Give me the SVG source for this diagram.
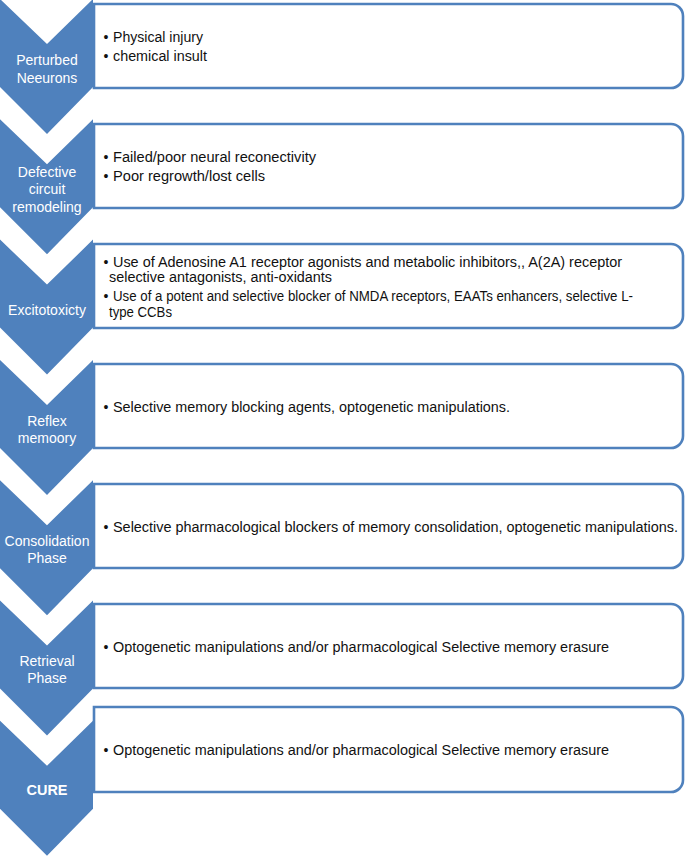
<svg xmlns="http://www.w3.org/2000/svg" width="685" height="857" viewBox="0 0 685 857">
<style>
.chev{fill:#4F81BD;}
.box{fill:#FFFFFF;stroke:#4F81BD;stroke-width:2.6;}
.lbl{font-family:"Liberation Sans",Arial,sans-serif;font-size:14px;fill:#FFFFFF;text-anchor:middle;}
.cure{font-family:"Liberation Sans",Arial,sans-serif;font-size:15.5px;font-weight:bold;fill:#FFFFFF;text-anchor:middle;}
.txt{font-family:"Liberation Sans",Arial,sans-serif;font-size:14px;fill:#111111;}
.bul{font-family:"Liberation Sans",Arial,sans-serif;font-size:14px;fill:#111111;text-anchor:middle;}
</style>
<rect width="685" height="857" fill="#FFFFFF"/>
<g id="connectors"></g>

<g id="step1">
<polygon class="chev" points="0,-1 47,44 93,-1 93,87 47,134 0,87"/>
<path class="box" d="M94,4 H671 A12,12 0 0 1 683,16 V76 A12,12 0 0 1 671,88 H94 Z"/>
<text class="lbl" x="47" y="65">Perturbed</text>
<text class="lbl" x="47" y="83">Neeurons</text>
<text class="bul" x="106" y="42">•</text><text class="txt" x="113" y="42" textLength="90" lengthAdjust="spacingAndGlyphs">Physical injury</text>
<text class="bul" x="106" y="61">•</text><text class="txt" x="113" y="61" textLength="94" lengthAdjust="spacingAndGlyphs">chemical insult</text>
</g>

<g id="step2">
<polygon class="chev" points="0,119.3 47,164.3 93,119.3 93,207.3 47,254.3 0,207.3"/>
<path class="box" d="M94,124 H671 A12,12 0 0 1 683,136 V196 A12,12 0 0 1 671,208 H94 Z"/>
<text class="lbl" x="47" y="177">Defective</text>
<text class="lbl" x="47" y="194">circuit</text>
<text class="lbl" x="47" y="212">remodeling</text>
<text class="bul" x="106" y="162">•</text><text class="txt" x="113" y="162" textLength="203" lengthAdjust="spacingAndGlyphs">Failed/poor neural reconectivity</text>
<text class="bul" x="106" y="181">•</text><text class="txt" x="113" y="181" textLength="152" lengthAdjust="spacingAndGlyphs">Poor regrowth/lost cells</text>
</g>

<g id="step3">
<polygon class="chev" points="0,239.6 47,284.6 93,239.6 93,327.6 47,374.6 0,327.6"/>
<path class="box" d="M94,244 H671 A12,12 0 0 1 683,256 V316 A12,12 0 0 1 671,328 H94 Z"/>
<text class="lbl" x="47" y="315">Excitotoxicty</text>
<text class="bul" x="106" y="267">•</text><text class="txt" x="113" y="267" textLength="509" lengthAdjust="spacingAndGlyphs">Use of Adenosine A1 receptor agonists and metabolic inhibitors,, A(2A) receptor</text>
<text class="txt" x="109" y="282" textLength="223" lengthAdjust="spacingAndGlyphs">selective antagonists, anti-oxidants</text>
<text class="bul" x="106" y="301">•</text><text class="txt" x="113" y="301" textLength="520" lengthAdjust="spacingAndGlyphs">Use of a potent and selective blocker of NMDA receptors, EAATs enhancers, selective L-</text>
<text class="txt" x="109" y="317" textLength="63" lengthAdjust="spacingAndGlyphs">type CCBs</text>
</g>

<g id="step4">
<polygon class="chev" points="0,359.9 47,404.9 93,359.9 93,447.9 47,494.9 0,447.9"/>
<path class="box" d="M94,364 H671 A12,12 0 0 1 683,376 V436 A12,12 0 0 1 671,448 H94 Z"/>
<text class="lbl" x="47" y="426">Reflex</text>
<text class="lbl" x="47" y="443">memoory</text>
<text class="bul" x="106" y="412">•</text><text class="txt" x="113" y="412" textLength="397" lengthAdjust="spacingAndGlyphs">Selective memory blocking agents, optogenetic manipulations.</text>
</g>

<g id="step5">
<polygon class="chev" points="0,480.2 47,525.2 93,480.2 93,568.2 47,615.2 0,568.2"/>
<path class="box" d="M94,484 H671 A12,12 0 0 1 683,496 V556 A12,12 0 0 1 671,568 H94 Z"/>
<text class="lbl" x="47" y="546">Consolidation</text>
<text class="lbl" x="47" y="563">Phase</text>
<text class="bul" x="106" y="532">•</text><text class="txt" x="113" y="532" textLength="565" lengthAdjust="spacingAndGlyphs">Selective pharmacological blockers of memory consolidation, optogenetic manipulations.</text>
</g>

<g id="step6">
<polygon class="chev" points="0,600.5 47,645.5 93,600.5 93,688.5 47,735.5 0,688.5"/>
<path class="box" d="M94,604 H671 A12,12 0 0 1 683,616 V676 A12,12 0 0 1 671,688 H94 Z"/>
<text class="lbl" x="47" y="666">Retrieval</text>
<text class="lbl" x="47" y="683">Phase</text>
<text class="bul" x="106" y="652">•</text><text class="txt" x="113" y="652" textLength="496" lengthAdjust="spacingAndGlyphs">Optogenetic manipulations and/or pharmacological Selective memory erasure</text>
</g>

<g id="step7">
<polygon class="chev" points="0,720.8 47,765.8 93,720.8 93,808.8 47,855.8 0,808.8"/>
<path class="box" d="M94,707 H671 A12,12 0 0 1 683,719 V780 A12,12 0 0 1 671,792 H94 Z"/>
<text class="cure" x="47" y="795" textLength="41" lengthAdjust="spacingAndGlyphs">CURE</text>
<text class="bul" x="106" y="755">•</text><text class="txt" x="113" y="755" textLength="496" lengthAdjust="spacingAndGlyphs">Optogenetic manipulations and/or pharmacological Selective memory erasure</text>
</g>
</svg>
